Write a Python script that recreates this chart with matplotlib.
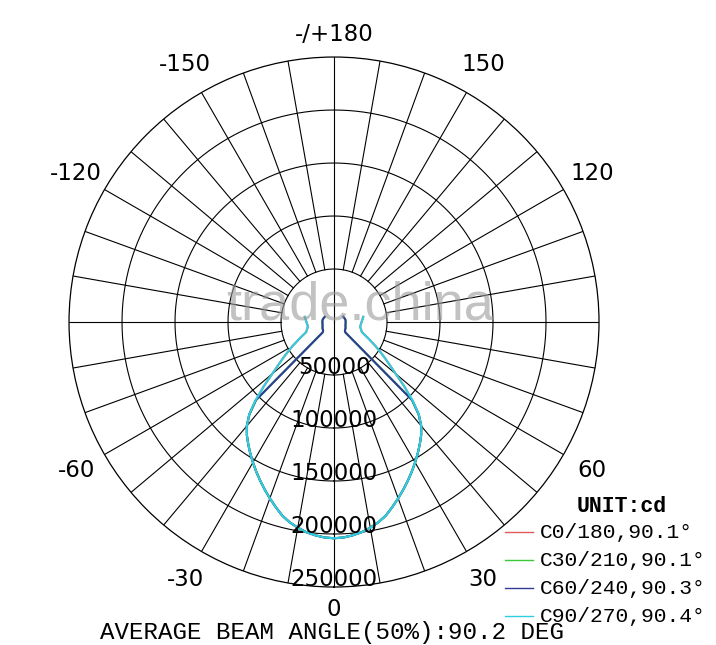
import numpy as np
import matplotlib
matplotlib.use('Agg')
import matplotlib.pyplot as plt
from matplotlib.lines import Line2D

# luminous intensity (cd) per C-plane, gamma angle from nadir (deg), mirrored for both halves
gamma = [0, 2.5, 5, 7.5, 10, 12.5, 15, 17.5, 20, 22.5, 25, 27.5, 30, 32.5, 35, 37.5, 40, 42.5,
         45, 47.5, 50, 52.5, 55, 57.5, 60, 65, 70, 80, 90, 100, 110, 120]
c0 = [204000, 203500, 202000, 200000, 197000, 193500, 189000, 183000, 177000, 171000,
      165000, 159000, 153000, 147000, 141000, 135000, 128000, 118000,
      104000, 90000, 76000, 66000, 58000, 51000, 45000, 35000, 28000, 25000, 26000, 28000,
      np.nan, np.nan]
c30 = [204000, 203500, 202000, 200000, 197000, 193500, 189000, 183000, 177000, 171000,
       165000, 159000, 153000, 147000, 141000, 135000, 128000, 118000,
       104000, 14500, 13500, 13000, 12800, 12600, 12500, 12000, 11500, 11000, 11000, 11000,
       10500, 10000]
c60 = [204000, 203500, 202000, 200000, 197000, 193500, 189000, 183000, 177000, 171000,
       165000, 159000, 153000, 147000, 141000, 135000, 128000, 118500,
       104500, 14500, 13500, 13000, 12800, 12600, 12500, 12000, 11500, 11000, 11000, 11000,
       10500, 10000]
c90 = [204000, 203500, 202000, 200000, 197000, 193500, 189000, 183000, 177000, 171000,
       165000, 159000, 153000, 147000, 141000, 135000, 128000, 118500,
       105000, 90000, 76000, 66000, 58000, 51000, 45000, 35000, 28000, 25000, 26000, 28000,
       np.nan, np.nan]
series_names = ['C0/180,90.1°', 'C30/210,90.1°', 'C60/240,90.3°', 'C90/270,90.4°']
series_colors = ['#e05a5a', '#3cc83c', '#303c96', '#2ecfe0']

rings = [50000, 100000, 150000, 200000, 250000]
ring_labels = ['50000', '100000', '150000', '200000', '250000']
angle_ticks = [0, 30, 60, 120, 150, 180, -150, -120, -60, -30]
angle_labels = ['0', '30', '60', '120', '150', '-/+180', '-150', '-120', '-60', '-30']

fig = plt.figure(figsize=(7.16, 6.45), dpi=100)
ax = fig.add_axes([0.0964, 0.0899, 0.7402, 0.8217], projection='polar')
ax.set_theta_zero_location('S')
ax.set_theta_direction(1)
ax.set_ylim(0, rings[-1])
ax.set_xticks([])
ax.set_yticks([])
ax.grid(False)
ax.spines['polar'].set_linewidth(0.9)
ax.spines['polar'].set_color('black')

# grid: rings and 10 degree spokes
tt = np.linspace(0, 2 * np.pi, 721)
for r in rings[:-1]:
    ax.plot(tt, np.full_like(tt, r), color='black', lw=0.8)
for d in range(0, 360, 10):
    r0 = 0 if d in (0, 180) else rings[0]
    ax.plot([np.radians(d)] * 2, [r0, rings[-1]], color='black', lw=0.8)

# intensity curves
g = np.radians(gamma)
for vals, col in zip([c0, c30, c60, c90], series_colors):
    v = np.array(vals, dtype=float)
    th = np.concatenate([-g[::-1], g])
    rr = np.concatenate([v[::-1], v])
    ax.plot(th, rr, color=col, lw=1.5)

# labels
lab_font = dict(family='DejaVu Sans', fontsize=16.5, color='black')
for a, s in zip(angle_ticks, angle_labels):
    rl = 271000 if a in (0, 180) else 281000
    ax.text(np.radians(a), rl, s, ha='center', va='center', clip_on=False, **lab_font)
for r, s in zip(rings, ring_labels):
    ax.text(0, r - 7500, s, ha='center', va='center', clip_on=False, **lab_font)

# watermark
fig.text(360 / 716, 1 - 306 / 645, 'trade.china', ha='center', va='center',
         fontsize=39, family='Liberation Sans', color='#9a9a9a', alpha=0.6)

# legend
mono = 'Liberation Mono'
fig.text(622 / 716, 1 - 507 / 645, 'UNIT:cd', ha='center', va='center',
         family=mono, fontweight='bold', fontsize=15.5)
for i, (name, col) in enumerate(zip(series_names, series_colors)):
    y = 1 - (532 + 28 * i) / 645
    fig.add_artist(Line2D([505 / 716, 533 / 716], [y, y], color=col, lw=1.0))
    fig.text(540 / 716, y, name, ha='left', va='center', family=mono, fontsize=15.3)

fig.text(100 / 716, 1 - 632 / 645, 'AVERAGE BEAM ANGLE(50%):90.2 DEG', ha='left', va='center',
         family=mono, fontsize=17.4)

fig.savefig('out.png', dpi=100, facecolor='white')
